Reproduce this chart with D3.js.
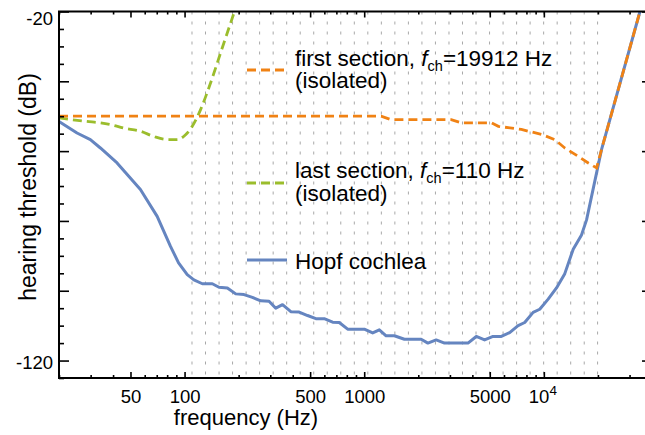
<!DOCTYPE html>
<html>
<head>
<meta charset="utf-8">
<script src="https://cdn.jsdelivr.net/npm/d3@7"></script>
<style>
  body { margin: 0; background: #fff; }
  svg { display: block; font-family: "Liberation Sans", Arial, sans-serif; }
</style>
</head>
<body>
<svg id="chart"></svg>
<script>
const size = {w: 645, h: 435};
const box = {l: 59, r: 652, t: 11.5, b: 378};

// hearing threshold curves
const hopfFreq = [20, 25.2, 29.9, 34.0, 42.1, 56.8, 70.4, 83.5, 92.6, 103.5, 112.7, 125.6, 142.7, 155.4, 173.1,
  192.6, 214.2, 238.6, 265.6, 295.3, 321.9, 351.0, 390.4, 434.4, 483.8, 538.3, 598.8, 667.2, 726.1, 808.9,
  900, 1001, 1115, 1214, 1324, 1472, 1674, 2075, 2262, 2516, 2799, 3782, 4207, 4680, 5213,
  5800, 6452, 7190, 7825, 8716, 9487, 10570, 11760, 13080, 14570, 16210, 17290, 20960, 34290, 40000];
const hopfDb = [-51.5, -54.8, -56.7, -59.1, -63.4, -71.0, -78.7, -87.3, -92.0, -95.4, -96.9, -98.0, -98.0, -99.0, -99.2,
  -100.9, -101.1, -101.9, -102.9, -103.0, -105.0, -104.0, -106.0, -106.1, -107.1, -108.0, -108.0, -109.0, -109.1, -111.0,
  -111.0, -111.0, -112.1, -111.2, -112.9, -112.9, -113.9, -113.9, -115.0, -114.1, -115.0, -115.0, -113.1, -114.1, -113.1,
  -113.1, -112.0, -110.0, -109.1, -106.2, -105.3, -102.4, -99.2, -95.1, -88.1, -84.0, -79.7, -59.5, -20, -7.8];

const firstFreq = [20, 1242, 1411, 3051, 3469, 5101, 5581, 7499, 9697, 11500, 13080, 15540, 17670, 19660, 20960, 34290, 40000];
const firstDb = [-50, -50, -51, -51, -51.9, -51.9, -52.9, -53.8, -55.2, -56.7, -59.1, -61.5, -63.4, -64.8, -59.5, -20, -7.8];

const lastFreq = [20, 28.6, 34.0, 38.6, 45.9, 56.8, 67.4, 80.1, 91.0, 101.3, 110.4, 122.8, 139.7, 158.8, 188.4, 210];
const lastDb = [-50.5, -51.5, -51.9, -52.4, -53.4, -54.3, -55.8, -56.7, -56.7, -55.3, -52.9, -48.1, -40.4, -31.8, -20.4, -13];

// section characteristic frequencies (dotted grid)
const sectionFreq = [110, 130.8, 155.6, 185.0, 220.1, 261.7, 311.3, 370.2, 440.3, 523.6, 622.7, 740.6, 880.8,
  1047.5, 1245.8, 1481.6, 1762.0, 2095.6, 2492.2, 2964.0, 3525.1, 4192.3, 4985.9, 5929.6, 7052.0,
  8386.8, 9974.3, 11862, 14108, 16779, 19912];

const xMajor = [50, 100, 500, 1000, 5000, 10000];
const xMinor = [20, 30, 40, 60, 70, 80, 90, 200, 300, 400, 600, 700, 800, 900,
  2000, 3000, 4000, 6000, 7000, 8000, 9000, 20000, 30000];
const yMajor = [-20, -40, -60, -80, -100, -120];
const yLabeled = [-20, -120];
const yMinor = [-25, -30, -35, -45, -50, -55, -65, -70, -75, -85, -90, -95, -105, -110, -115, -125];

const legendNames = ['first section, ', 'last section, ', 'Hopf cochlea'];
const legendFch = ['19912 Hz', '110 Hz', null];

const colors = {hopf: '#6585c0', first: '#f08214', last: '#9bbd2c'};

const svg = d3.select('svg#chart')
    .attr('width', size.w)
    .attr('height', size.h);

const x = d3.scaleLog().domain([20, 40000]).range([box.l, box.r]);
const y = d3.scaleLinear().domain([-125, -20]).range([box.b, box.t]);

svg.append('clipPath').attr('id', 'clip')
  .append('rect')
    .attr('x', box.l).attr('y', box.t)
    .attr('width', box.r - box.l).attr('height', box.b - box.t);

// dotted section grid
svg.append('g')
  .selectAll('line')
  .data(sectionFreq)
  .join('line')
    .attr('x1', d => x(d)).attr('x2', d => x(d))
    .attr('y1', box.t).attr('y2', box.b)
    .attr('stroke', '#a8a8a8')
    .attr('stroke-width', 1)
    .attr('stroke-dasharray', '3,7');

// curves
const lineGen = (fs, ds, curve) => d3.line()
    .x(i => x(fs[i]))
    .y(i => y(ds[i]))
    .curve(curve)(d3.range(fs.length));

const plotG = svg.append('g').attr('clip-path', 'url(#clip)');

plotG.append('path')
    .attr('d', lineGen(hopfFreq, hopfDb, d3.curveLinear))
    .attr('fill', 'none')
    .attr('stroke', colors.hopf)
    .attr('stroke-width', 3)
    .attr('stroke-linejoin', 'round');

plotG.append('path')
    .attr('d', lineGen(lastFreq, lastDb, d3.curveMonotoneX))
    .attr('fill', 'none')
    .attr('stroke', colors.last)
    .attr('stroke-width', 2.8)
    .attr('stroke-dasharray', '9,5');

plotG.append('path')
    .attr('d', lineGen(firstFreq, firstDb, d3.curveLinear))
    .attr('fill', 'none')
    .attr('stroke', colors.first)
    .attr('stroke-width', 2.8)
    .attr('stroke-dasharray', '9,5');

// frame + ticks
function styleAxis(g) {
  g.select('.domain').remove();
  g.selectAll('.tick line').attr('stroke', '#000').attr('stroke-width', 1.6);
  g.selectAll('text').attr('font-size', 18.5).attr('fill', '#000')
    .attr('font-family', '"Liberation Sans", Arial, sans-serif');
}

const fmtX = d => d === 10000 ? '' : d3.format('d')(d);

svg.append('g').attr('transform', `translate(0,${box.b})`)
  .call(d3.axisBottom(x).tickValues(xMajor).tickFormat(fmtX).tickSize(-6).tickPadding(11.5))
  .call(styleAxis);
svg.append('g').attr('transform', `translate(0,${box.b})`)
  .call(d3.axisBottom(x).tickValues(xMinor).tickFormat('').tickSize(-3))
  .call(styleAxis);
svg.append('g').attr('transform', `translate(0,${box.t})`)
  .call(d3.axisTop(x).tickValues(xMajor).tickFormat('').tickSize(-6))
  .call(styleAxis);
svg.append('g').attr('transform', `translate(0,${box.t})`)
  .call(d3.axisTop(x).tickValues(xMinor).tickFormat('').tickSize(-3))
  .call(styleAxis);

// 10^4 label
svg.append('text')
    .attr('x', x(10000) - 1)
    .attr('y', box.b + 24.5)
    .attr('text-anchor', 'middle')
    .attr('font-size', 18.5)
    .call(t => {
      t.append('tspan').text('10');
      t.append('tspan').attr('dy', -8).attr('font-size', 13.5).text('4');
    });

const leftAxis = svg.append('g').attr('transform', `translate(${box.l},0)`)
  .call(d3.axisLeft(y).tickValues(yMajor)
    .tickFormat(d => yLabeled.includes(d) ? d : '').tickSize(-10).tickPadding(6))
  .call(styleAxis);
leftAxis.selectAll('.tick text').attr('dy', d => d === -20 ? '0.72em' : '0.45em');
svg.append('g').attr('transform', `translate(${box.l},0)`)
  .call(d3.axisLeft(y).tickValues(yMinor).tickFormat('').tickSize(-5))
  .call(styleAxis);
svg.append('g').attr('transform', `translate(${box.r},0)`)
  .call(d3.axisRight(y).tickValues(yMajor).tickFormat('').tickSize(-10))
  .call(styleAxis);
svg.append('g').attr('transform', `translate(${box.r},0)`)
  .call(d3.axisRight(y).tickValues(yMinor).tickFormat('').tickSize(-5))
  .call(styleAxis);

svg.append('rect')
    .attr('x', box.l).attr('y', box.t)
    .attr('width', box.r - box.l).attr('height', box.b - box.t)
    .attr('fill', 'none')
    .attr('stroke', '#000')
    .attr('stroke-width', 2);

// axis titles
svg.append('text')
    .attr('x', 246).attr('y', 425)
    .attr('text-anchor', 'middle')
    .attr('font-size', 22)
    .text('frequency (Hz)');

svg.append('text')
    .attr('transform', 'translate(36,187) rotate(-90)')
    .attr('text-anchor', 'middle')
    .attr('font-size', 23)
    .text('hearing threshold (dB)');

// legend
const legendRows = [
  {lineY: 70, baseY: 65.5, color: colors.first, dash: '9,5'},
  {lineY: 183, baseY: 178, color: colors.last, dash: '9,5'},
  {lineY: 260, baseY: 268.5, color: colors.hopf, dash: null}
];
const legendG = svg.append('g');
legendRows.forEach((r, i) => {
  legendG.append('line')
      .attr('x1', 247).attr('x2', 287)
      .attr('y1', r.lineY).attr('y2', r.lineY)
      .attr('stroke', r.color)
      .attr('stroke-width', 3)
      .attr('stroke-dasharray', r.dash);
  const t = legendG.append('text')
      .attr('x', 295).attr('y', r.baseY)
      .attr('font-size', 22.5);
  t.append('tspan').text(legendNames[i]);
  if (legendFch[i]) {
    t.append('tspan').attr('font-style', 'italic').text('f');
    t.append('tspan').attr('font-size', 14.5).attr('dy', 5).text('ch');
    t.append('tspan').attr('dy', -5).text('=' + legendFch[i]);
    t.append('tspan').attr('x', 295).attr('dy', 22.5).text('(isolated)');
  }
});
</script>
</body>
</html>
